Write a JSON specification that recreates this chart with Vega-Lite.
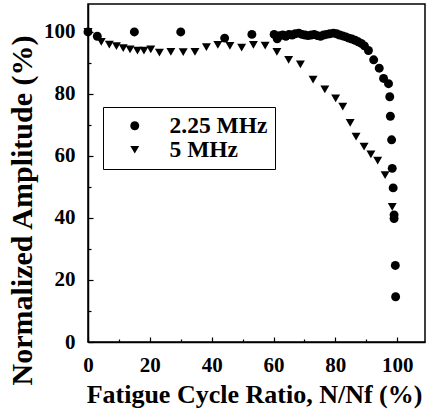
{
  "$schema": "https://vega.github.io/schema/vega-lite/v6.json",
  "width": 337,
  "height": 338,
  "autosize": {"type": "none"},
  "padding": {"left": 88, "top": 4, "right": 1, "bottom": 71},
  "background": "white",
  "config": {
    "view": {"stroke": "black", "strokeWidth": 1.5},
    "axis": {
      "labelFont": "Liberation Serif", "labelFontWeight": "bold", "labelFontSize": 21, "labelColor": "black",
      "titleFont": "Liberation Serif", "titleFontWeight": "bold", "titleColor": "black",
      "domainColor": "black", "domainWidth": 1.5, "tickColor": "black", "tickWidth": 1.2, "grid": false
    }
  },
  "datasets": {
    "pts": [
      {"x": 0, "y": 100, "f": "2.25 MHz"},
      {"x": 3, "y": 98.6, "f": "2.25 MHz"},
      {"x": 15, "y": 100, "f": "2.25 MHz"},
      {"x": 30, "y": 100, "f": "2.25 MHz"},
      {"x": 44.2, "y": 98, "f": "2.25 MHz"},
      {"x": 53, "y": 99.2, "f": "2.25 MHz"},
      {"x": 60.2, "y": 99.2, "f": "2.25 MHz"},
      {"x": 61.2, "y": 97.8, "f": "2.25 MHz"},
      {"x": 62, "y": 98.8, "f": "2.25 MHz"},
      {"x": 63, "y": 99, "f": "2.25 MHz"},
      {"x": 64, "y": 98.6, "f": "2.25 MHz"},
      {"x": 65, "y": 99.2, "f": "2.25 MHz"},
      {"x": 66, "y": 99, "f": "2.25 MHz"},
      {"x": 67, "y": 99.4, "f": "2.25 MHz"},
      {"x": 68.2, "y": 99.6, "f": "2.25 MHz"},
      {"x": 69.2, "y": 99.2, "f": "2.25 MHz"},
      {"x": 70.2, "y": 99, "f": "2.25 MHz"},
      {"x": 71.2, "y": 98.8, "f": "2.25 MHz"},
      {"x": 72.2, "y": 99, "f": "2.25 MHz"},
      {"x": 73.2, "y": 99.2, "f": "2.25 MHz"},
      {"x": 74.2, "y": 98.8, "f": "2.25 MHz"},
      {"x": 75.2, "y": 98.6, "f": "2.25 MHz"},
      {"x": 76.2, "y": 99, "f": "2.25 MHz"},
      {"x": 77.2, "y": 99.2, "f": "2.25 MHz"},
      {"x": 78.2, "y": 99.4, "f": "2.25 MHz"},
      {"x": 79.4, "y": 99.6, "f": "2.25 MHz"},
      {"x": 80.4, "y": 99.4, "f": "2.25 MHz"},
      {"x": 81.4, "y": 99, "f": "2.25 MHz"},
      {"x": 82.4, "y": 98.7, "f": "2.25 MHz"},
      {"x": 83.4, "y": 98.4, "f": "2.25 MHz"},
      {"x": 84.4, "y": 98, "f": "2.25 MHz"},
      {"x": 85.4, "y": 97.7, "f": "2.25 MHz"},
      {"x": 86.4, "y": 97.3, "f": "2.25 MHz"},
      {"x": 87.4, "y": 96.8, "f": "2.25 MHz"},
      {"x": 88.4, "y": 96.3, "f": "2.25 MHz"},
      {"x": 89.4, "y": 95.5, "f": "2.25 MHz"},
      {"x": 90.7, "y": 94, "f": "2.25 MHz"},
      {"x": 92.4, "y": 91, "f": "2.25 MHz"},
      {"x": 94.2, "y": 88.3, "f": "2.25 MHz"},
      {"x": 95.6, "y": 85, "f": "2.25 MHz"},
      {"x": 97.2, "y": 83.3, "f": "2.25 MHz"},
      {"x": 97.6, "y": 79.1, "f": "2.25 MHz"},
      {"x": 97.8, "y": 72.8, "f": "2.25 MHz"},
      {"x": 98.2, "y": 65.2, "f": "2.25 MHz"},
      {"x": 98.4, "y": 56, "f": "2.25 MHz"},
      {"x": 98.7, "y": 49.7, "f": "2.25 MHz"},
      {"x": 99, "y": 41, "f": "2.25 MHz"},
      {"x": 99, "y": 39.8, "f": "2.25 MHz"},
      {"x": 99.4, "y": 24.7, "f": "2.25 MHz"},
      {"x": 99.5, "y": 14.6, "f": "2.25 MHz"},
      {"x": 0, "y": 100, "f": "5 MHz"},
      {"x": 4.3, "y": 96.8, "f": "5 MHz"},
      {"x": 6.9, "y": 95.9, "f": "5 MHz"},
      {"x": 9.2, "y": 95.4, "f": "5 MHz"},
      {"x": 11.4, "y": 94.8, "f": "5 MHz"},
      {"x": 13.6, "y": 94.4, "f": "5 MHz"},
      {"x": 16, "y": 94, "f": "5 MHz"},
      {"x": 18.1, "y": 94, "f": "5 MHz"},
      {"x": 20.3, "y": 94.4, "f": "5 MHz"},
      {"x": 23.1, "y": 93.3, "f": "5 MHz"},
      {"x": 26.8, "y": 93.6, "f": "5 MHz"},
      {"x": 30.8, "y": 93.5, "f": "5 MHz"},
      {"x": 34.6, "y": 93.6, "f": "5 MHz"},
      {"x": 38.3, "y": 95.1, "f": "5 MHz"},
      {"x": 42, "y": 95.8, "f": "5 MHz"},
      {"x": 45.9, "y": 95.5, "f": "5 MHz"},
      {"x": 49.7, "y": 94.9, "f": "5 MHz"},
      {"x": 53.5, "y": 95.8, "f": "5 MHz"},
      {"x": 57.3, "y": 95.6, "f": "5 MHz"},
      {"x": 61.1, "y": 93.6, "f": "5 MHz"},
      {"x": 64.9, "y": 91, "f": "5 MHz"},
      {"x": 68.7, "y": 89.5, "f": "5 MHz"},
      {"x": 72.8, "y": 84.6, "f": "5 MHz"},
      {"x": 76.6, "y": 81.5, "f": "5 MHz"},
      {"x": 80.1, "y": 78.6, "f": "5 MHz"},
      {"x": 82.4, "y": 75.9, "f": "5 MHz"},
      {"x": 84.8, "y": 70.7, "f": "5 MHz"},
      {"x": 86.7, "y": 66.2, "f": "5 MHz"},
      {"x": 89.3, "y": 63, "f": "5 MHz"},
      {"x": 91.5, "y": 60.5, "f": "5 MHz"},
      {"x": 93.7, "y": 58.5, "f": "5 MHz"},
      {"x": 96.1, "y": 53.8, "f": "5 MHz"},
      {"x": 98.4, "y": 43.6, "f": "5 MHz"}
    ]
  },
  "data": {"name": "pts"},
  "layer": [
    {
      "mark": {"type": "point", "filled": true, "color": "black", "opacity": 1, "size": 80},
      "encoding": {
        "x": {"field": "x", "type": "quantitative", "scale": {"domain": [0, 109], "nice": false},
          "axis": {"values": [0, 20, 40, 60, 80, 100], "tickSize": -5, "labelPadding": 17, "labelFlush": false,
            "title": "Fatigue Cycle Ratio, N/Nf (%)", "titleFontSize": 26, "titlePadding": 6, "titleX": 166}},
        "y": {"field": "y", "type": "quantitative", "scale": {"domain": [0, 109], "nice": false},
          "axis": {"values": [0, 20, 40, 60, 80, 100], "tickSize": -5, "labelPadding": 18, "labelFlush": false,
            "title": "Normalized Amplitude (%)", "titleFontSize": 30, "titlePadding": 6, "titleY": 206}},
        "shape": {"field": "f", "type": "nominal",
          "scale": {"domain": ["2.25 MHz", "5 MHz"], "range": ["circle", "triangle-down"]},
          "legend": {"orient": "none", "legendX": 15, "legendY": 103, "title": null,
            "strokeColor": "black", "padding": 7, "symbolOffset": 13, "labelOffset": 23,
            "labelFont": "Liberation Serif", "labelFontWeight": "bold", "labelFontSize": 23.5, "labelColor": "black",
            "rowPadding": -3, "symbolSize": 80, "symbolFillColor": "black", "symbolStrokeColor": "black"}}
      }
    },
    {
      "mark": {"type": "point", "opacity": 0},
      "encoding": {
        "x": {"field": "x", "type": "quantitative", "scale": {"domain": [0, 109], "nice": false},
          "axis": {"orient": "bottom", "values": [10, 30, 50, 70, 90], "labels": false, "domain": false, "tickSize": -3, "title": null}},
        "y": {"field": "y", "type": "quantitative", "scale": {"domain": [0, 109], "nice": false},
          "axis": {"orient": "left", "values": [10, 30, 50, 70, 90], "labels": false, "domain": false, "tickSize": -3, "title": null}}
      }
    }
  ],
  "resolve": {"axis": {"x": "independent", "y": "independent"}}
}
